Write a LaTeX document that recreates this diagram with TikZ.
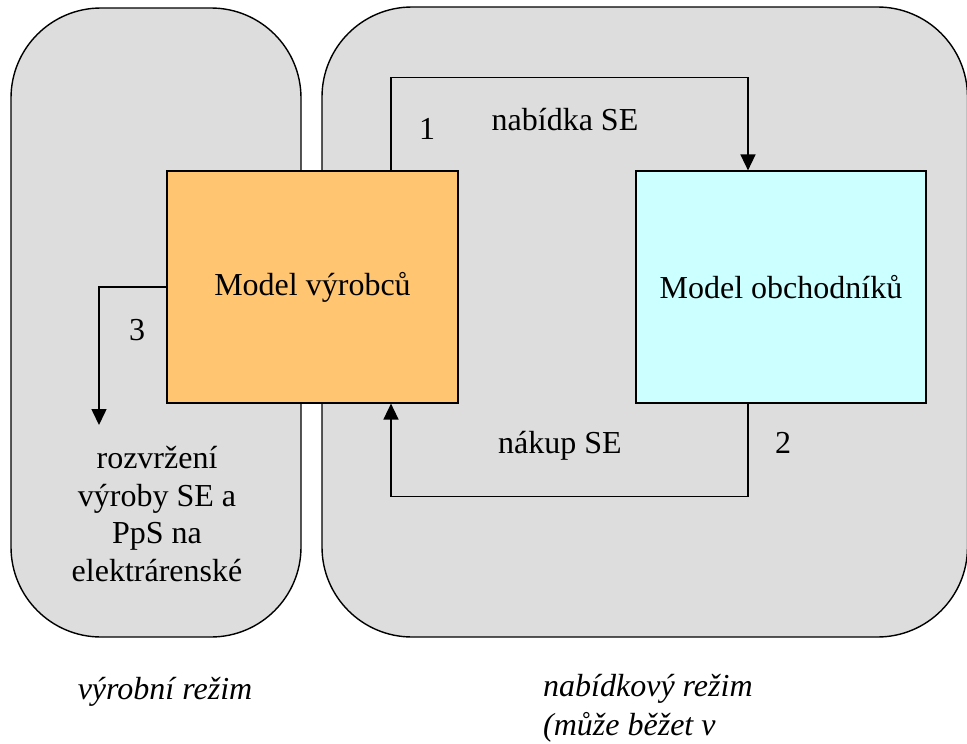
\documentclass[tikz,border=0pt]{standalone}
\usepackage{fontspec}
\setmainfont{Liberation Serif}
\usetikzlibrary{arrows.meta}
\definecolor{rezim}{HTML}{DDDDDD}
\definecolor{vyroba}{HTML}{FFC571}
\definecolor{obchod}{HTML}{CCFFFF}
\begin{document}
\begin{tikzpicture}[x=1pt,y=-1pt,
    font=\fontsize{32}{37}\selectfont,
    region/.style={draw, fill=rezim, line width=1.4pt, rounded corners=90pt},
    model/.style={draw, line width=1.2pt, minimum width=291pt, minimum height=232pt, inner sep=0pt},
    flow/.style={line width=1.6pt, -{Triangle[length=16pt,width=15pt]}}]
        \useasboundingbox (0,0) rectangle (967,744);
        \draw[region] (11,8) rectangle (301,637);
        \draw[region] (322,7) rectangle (967.5,637);
        \node[model, fill=vyroba] (vyrobci) at (312.5,287) {Model výrobců};
        \node[model, fill=obchod, minimum width=290pt] (obchodnici) at (781,287) {Model obchodníků};
        \draw[flow] ([xshift=78.5pt]vyrobci.north) -- ++(0,-93) -| ([xshift=-33pt]obchodnici.north);
        \draw[flow] ([xshift=-33pt]obchodnici.south) -- ++(0,93) -| ([xshift=78.5pt]vyrobci.south);
        \coordinate (rozvrh) at (99,425);
        \draw[flow] (vyrobci.west) -| (rozvrh);
        \node (n1) at (427,129) {1};
        \node (nabidka) at (565,120) {nabídka SE};
        \node (n2) at (783,443) {2};
        \node (nakup) at (560,446) {nákup SE};
        \node (n3) at (137,330) {3};
        \node[font=\fontsize{32}{37.5}\selectfont, align=center, inner sep=0pt] (rozvrzeni) at (157,514) {rozvržení\\výroby SE a\\PpS na\\elektrárenské};
        \node[font=\fontsize{32}{37}\selectfont\itshape] (vyrobni) at (165,692) {výrobní režim};
        \node[font=\fontsize{32}{39}\selectfont\itshape, align=left, anchor=north west, inner sep=0pt] (nabidkovy) at (543,674) {nabídkový režim\\(může běžet v};
      \end{tikzpicture}
\end{document}
